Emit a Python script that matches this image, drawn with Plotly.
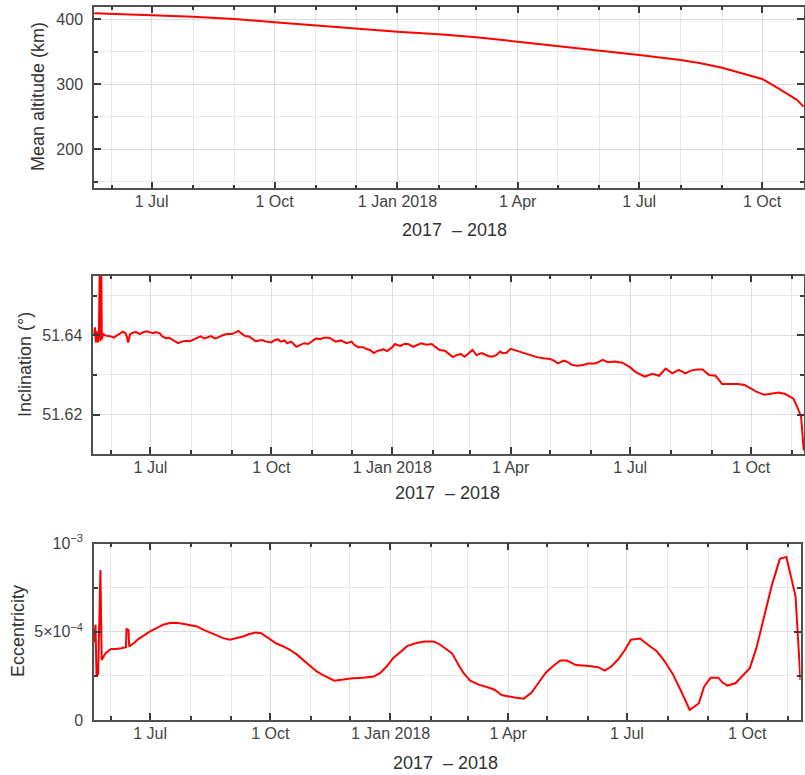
import plotly.graph_objects as go
import pandas as pd

# ---------------- data ----------------
alt_dates = ["2017-05-19", "2017-06-01", "2017-07-01", "2017-08-01", "2017-09-01",
             "2017-10-01", "2017-11-01", "2017-12-01", "2018-01-01", "2018-02-01",
             "2018-03-01", "2018-04-01", "2018-05-01", "2018-06-01", "2018-07-01",
             "2018-08-01", "2018-08-16", "2018-09-01", "2018-09-15", "2018-10-01",
             "2018-10-11", "2018-10-21", "2018-10-27", "2018-11-01"]
alt_km = [409.4, 408.2, 406.1, 404.0, 400.5,
          395.4, 390.2, 385.0, 380.8, 376.9,
          372.3, 365.6, 358.9, 352.8, 345.1,
          337.4, 332.5, 325.6, 317.9, 308.2,
          296.4, 283.5, 276.0, 265.6]

inc_dates = ["2017-05-19 00:00", "2017-05-19 18:00", "2017-05-20 12:00", "2017-05-21 06:00",
             "2017-05-22 00:00", "2017-05-22 18:00", "2017-05-23 12:00", "2017-05-24 00:00",
             "2017-05-24 12:00", "2017-05-25 00:00", "2017-05-26", "2017-05-28",
             "2017-06-01", "2017-06-03", "2017-06-05", "2017-06-08", "2017-06-10",
             "2017-06-12", "2017-06-13", "2017-06-14", "2017-06-15 12:00", "2017-06-18",
             "2017-06-20", "2017-06-23", "2017-06-25", "2017-06-28", "2017-07-01",
             "2017-07-03", "2017-07-05", "2017-07-08", "2017-07-10", "2017-07-13",
             "2017-07-15", "2017-07-17", "2017-07-20", "2017-07-22", "2017-07-25",
             "2017-07-28", "2017-07-31", "2017-08-02", "2017-08-05", "2017-08-08",
             "2017-08-11", "2017-08-14", "2017-08-16", "2017-08-19", "2017-08-21",
             "2017-08-25", "2017-08-28", "2017-09-01", "2017-09-03", "2017-09-06",
             "2017-09-08", "2017-09-11", "2017-09-14", "2017-09-17", "2017-09-19",
             "2017-09-22", "2017-09-24", "2017-09-27", "2017-10-01", "2017-10-03",
             "2017-10-06", "2017-10-08", "2017-10-11", "2017-10-13", "2017-10-16",
             "2017-10-20", "2017-10-23", "2017-10-26", "2017-10-29", "2017-11-01",
             "2017-11-04", "2017-11-07", "2017-11-10", "2017-11-14", "2017-11-17",
             "2017-11-19", "2017-11-23", "2017-11-27", "2017-12-01", "2017-12-03",
             "2017-12-06", "2017-12-10", "2017-12-12", "2017-12-15", "2017-12-18",
             "2017-12-21", "2017-12-24", "2017-12-25", "2017-12-28", "2018-01-01",
             "2018-01-03", "2018-01-07", "2018-01-10", "2018-01-13", "2018-01-17",
             "2018-01-20", "2018-01-23", "2018-01-27", "2018-01-31", "2018-02-03",
             "2018-02-06", "2018-02-10", "2018-02-13", "2018-02-16", "2018-02-19",
             "2018-02-22", "2018-02-25", "2018-03-01", "2018-03-03", "2018-03-06",
             "2018-03-10", "2018-03-15", "2018-03-18", "2018-03-21", "2018-03-24",
             "2018-03-26", "2018-03-29", "2018-04-01", "2018-04-04", "2018-04-08",
             "2018-04-12", "2018-04-16", "2018-04-21", "2018-04-26", "2018-05-01",
             "2018-05-04", "2018-05-07", "2018-05-10", "2018-05-12", "2018-05-15",
             "2018-05-18", "2018-05-22", "2018-05-26", "2018-05-30", "2018-06-04",
             "2018-06-06", "2018-06-10", "2018-06-14", "2018-06-19", "2018-06-25",
             "2018-07-01", "2018-07-05", "2018-07-12", "2018-07-18", "2018-07-23",
             "2018-07-28", "2018-08-02", "2018-08-07", "2018-08-12", "2018-08-16",
             "2018-08-21", "2018-08-25", "2018-08-30", "2018-09-04", "2018-09-09",
             "2018-09-16", "2018-09-21", "2018-09-26", "2018-10-01", "2018-10-05",
             "2018-10-11", "2018-10-17", "2018-10-22", "2018-10-27", "2018-11-02",
             "2018-11-05", "2018-11-08", "2018-11-09", "2018-11-10"]
inc_deg = [51.6400, 51.6420, 51.6382, 51.6410,
           51.6382, 51.6403, 51.6600, 51.6385,
           51.6600, 51.6390, 51.6403, 51.6399,
           51.6397, 51.6394, 51.6398, 51.6405, 51.6409,
           51.6405, 51.6397, 51.6382, 51.6403, 51.6407,
           51.6408, 51.6403, 51.6407, 51.6410, 51.6407,
           51.6405, 51.6408, 51.6405, 51.6397, 51.6392,
           51.6394, 51.6390, 51.6384, 51.6380, 51.6384,
           51.6386, 51.6385, 51.6388, 51.6392, 51.6397,
           51.6392, 51.6395, 51.6398, 51.6392, 51.6394,
           51.6400, 51.6403, 51.6403, 51.6407, 51.6411,
           51.6405, 51.6398, 51.6397, 51.6391, 51.6385,
           51.6387, 51.6388, 51.6384, 51.6382, 51.6387,
           51.6390, 51.6384, 51.6387, 51.6380, 51.6384,
           51.6371, 51.6375, 51.6380, 51.6378, 51.6384,
           51.6392, 51.6390, 51.6394, 51.6394, 51.6388,
           51.6384, 51.6387, 51.6380, 51.6384, 51.6376,
           51.6370, 51.6370, 51.6366, 51.6363, 51.6355,
           51.6361, 51.6363, 51.6365, 51.6360, 51.6370,
           51.6378, 51.6373, 51.6378, 51.6378, 51.6371,
           51.6376, 51.6380, 51.6376, 51.6378, 51.6370,
           51.6363, 51.6361, 51.6353, 51.6345, 51.6350,
           51.6353, 51.6346, 51.6356, 51.6363, 51.6350,
           51.6355, 51.6348, 51.6346, 51.6350, 51.6359,
           51.6355, 51.6356, 51.6366, 51.6363, 51.6359,
           51.6355, 51.6350, 51.6345, 51.6342, 51.6340,
           51.6336, 51.6329, 51.6334, 51.6336, 51.6331,
           51.6325, 51.6323, 51.6325, 51.6329, 51.6329,
           51.6331, 51.6338, 51.6332, 51.6334, 51.6331,
           51.6319, 51.6308, 51.6296, 51.6303, 51.6298,
           51.6316, 51.6304, 51.6313, 51.6304, 51.6311,
           51.6314, 51.6314, 51.6300, 51.6298, 51.6277,
           51.6277, 51.6277, 51.6275, 51.6266, 51.6258,
           51.6250, 51.6254, 51.6256, 51.6252, 51.6241,
           51.6220, 51.6195, 51.6153, 51.6110]

ecc_dates = ["2017-05-19 00:00", "2017-05-20 06:00", "2017-05-21 00:00", "2017-05-22 06:00",
             "2017-05-24 00:00", "2017-05-25 00:00", "2017-05-26 12:00", "2017-05-28",
             "2017-06-01", "2017-06-05", "2017-06-09", "2017-06-12 12:00", "2017-06-13 00:00",
             "2017-06-14 12:00", "2017-06-15 00:00", "2017-06-18", "2017-06-22", "2017-06-27",
             "2017-07-01", "2017-07-06", "2017-07-11", "2017-07-16", "2017-07-21",
             "2017-07-26", "2017-08-01", "2017-08-06", "2017-08-11", "2017-08-16",
             "2017-08-21", "2017-08-26", "2017-08-31", "2017-09-05", "2017-09-10",
             "2017-09-15", "2017-09-20", "2017-09-24", "2017-09-28", "2017-10-02",
             "2017-10-06", "2017-10-11", "2017-10-16", "2017-10-21", "2017-10-26",
             "2017-10-31", "2017-11-05", "2017-11-10", "2017-11-15", "2017-11-19",
             "2017-11-26", "2017-12-03", "2017-12-11", "2017-12-19", "2017-12-24",
             "2017-12-29", "2018-01-03", "2018-01-08", "2018-01-14", "2018-01-21",
             "2018-01-27", "2018-02-03", "2018-02-07", "2018-02-12", "2018-02-17",
             "2018-02-22", "2018-02-26", "2018-03-03", "2018-03-10", "2018-03-17",
             "2018-03-22", "2018-03-27", "2018-04-01", "2018-04-06", "2018-04-13",
             "2018-04-19", "2018-04-25", "2018-04-30", "2018-05-05", "2018-05-11",
             "2018-05-16", "2018-05-23", "2018-05-31", "2018-06-09", "2018-06-14",
             "2018-06-19", "2018-06-24", "2018-06-29", "2018-07-04", "2018-07-11",
             "2018-07-17", "2018-07-24", "2018-07-30", "2018-08-05", "2018-08-11",
             "2018-08-18", "2018-08-25", "2018-08-29", "2018-09-03", "2018-09-09",
             "2018-09-12", "2018-09-16", "2018-09-22", "2018-09-27", "2018-10-03",
             "2018-10-08", "2018-10-14", "2018-10-20", "2018-10-26", "2018-10-31",
             "2018-11-07", "2018-11-10 18:00"]
ecc_e4 = [4.40, 5.40, 2.50, 2.60,
          8.50, 3.40, 3.60, 3.79,
          4.02, 4.02, 4.07, 4.13, 5.15,
          5.10, 4.17, 4.32, 4.58, 4.83,
          5.02, 5.21, 5.40, 5.49, 5.51,
          5.45, 5.38, 5.30, 5.11, 4.96,
          4.77, 4.64, 4.55, 4.64, 4.73,
          4.87, 4.96, 4.92, 4.73, 4.51,
          4.32, 4.17, 3.98, 3.73, 3.41,
          3.07, 2.78, 2.56, 2.35, 2.23,
          2.29, 2.37, 2.39, 2.46, 2.65,
          3.03, 3.50, 3.84, 4.20, 4.36,
          4.45, 4.45, 4.32, 4.05, 3.79,
          3.13, 2.65, 2.23, 1.99, 1.84,
          1.70, 1.42, 1.33, 1.27, 1.21,
          1.55, 2.18, 2.69, 3.03, 3.37,
          3.37, 3.11, 3.07, 2.99, 2.80,
          3.03, 3.41, 3.92, 4.55, 4.62,
          4.26, 3.88, 3.31, 2.61, 1.70,
          0.57, 0.95, 1.89, 2.40, 2.40,
          2.12, 1.95, 2.08, 2.46, 2.94,
          4.07, 5.87, 7.67, 9.13, 9.24,
          7.01, 2.27]
ecc = [v * 1e-4 for v in ecc_e4]

x_tick_vals = ["2017-07-01", "2017-10-01", "2018-01-01", "2018-04-01", "2018-07-01", "2018-10-01"]
x_tick_text = ["1 Jul", "1 Oct", "1 Jan 2018", "1 Apr", "1 Jul", "1 Oct"]
month_starts = [d.strftime("%Y-%m-%d") for d in pd.date_range("2017-05-01", "2018-12-01", freq="MS")]

# ---------------- styling ----------------
FONT = "Liberation Sans, Arial, sans-serif"
RED = "#ff0000"
FRAME = "#505050"
TICKC = "#3a3a3a"
LABC = "#444444"
GRID = "#dcdcdc"
GRID_MINOR = "#e8e8e8"
W, H = 805, 775


def dom_x(a, b):
    return [a / W, b / W]


def dom_y(top, bottom):
    return [1 - bottom / H, 1 - top / H]


def xaxis(domain, anchor, rng):
    return dict(domain=domain, anchor=anchor, type="date", range=rng,
                tickmode="array", tickvals=x_tick_vals, ticktext=x_tick_text,
                ticks="inside", ticklen=7, tickwidth=2, tickcolor=TICKC,
                showline=True, linecolor=FRAME, linewidth=1.5, mirror="ticks",
                showgrid=True, gridcolor=GRID, gridwidth=1, zeroline=False,
                tickfont=dict(size=16, color=LABC, family=FONT),
                ticklabelstandoff=-2, automargin=False,
                minor=dict(tickmode="array", tickvals=month_starts, ticks="inside",
                           ticklen=4, tickwidth=1.5, tickcolor=TICKC,
                           showgrid=True, gridcolor=GRID_MINOR, gridwidth=1))


def yaxis(domain, anchor, rng, vals, text, minor_vals):
    return dict(domain=domain, anchor=anchor, range=rng,
                tickmode="array", tickvals=vals, ticktext=text,
                ticks="inside", ticklen=7, tickwidth=2, tickcolor=TICKC,
                showline=True, linecolor=FRAME, linewidth=1.5, mirror="ticks",
                showgrid=True, gridcolor=GRID, gridwidth=1, zeroline=False,
                tickfont=dict(size=16, color=LABC, family=FONT),
                ticklabelstandoff=6, automargin=False,
                minor=dict(tickmode="array", tickvals=minor_vals, ticks="inside",
                           ticklen=4, tickwidth=1.5, tickcolor=TICKC,
                           showgrid=True, gridcolor=GRID_MINOR, gridwidth=1))


fig = go.Figure()
line = dict(color=RED, width=2)
fig.add_trace(go.Scatter(x=alt_dates, y=alt_km, mode="lines", line=line,
                         xaxis="x", yaxis="y", showlegend=False, hoverinfo="skip"))
fig.add_trace(go.Scatter(x=inc_dates, y=inc_deg, mode="lines", line=line,
                         xaxis="x2", yaxis="y2", showlegend=False, hoverinfo="skip"))
fig.add_trace(go.Scatter(x=ecc_dates, y=ecc, mode="lines", line=line,
                         xaxis="x3", yaxis="y3", showlegend=False, hoverinfo="skip"))

fig.update_layout(
    width=W, height=H,
    margin=dict(l=0, r=0, t=0, b=0),
    paper_bgcolor="white", plot_bgcolor="white",
    font=dict(family=FONT, color="#333333"),
    template="none",
    xaxis=xaxis(dom_x(94, 804), "y", ["2017-05-18 20:00", "2018-11-01 08:00"]),
    yaxis=yaxis(dom_y(6.7, 188.3), "x", [140, 419.4], [200, 300, 400],
                ["200", "300", "400"], [150, 250, 350]),
    xaxis2=xaxis(dom_x(93.3, 804), "y2", ["2017-05-18 12:00", "2018-11-10 05:00"]),
    yaxis2=yaxis(dom_y(275.7, 454), "x2", [51.6101, 51.655], [51.62, 51.64],
                 ["51.62", "51.64"], [51.63, 51.65]),
    xaxis3=xaxis(dom_x(94, 800.5), "y3", ["2017-05-19 02:00", "2018-11-10 19:00"]),
    yaxis3=yaxis(dom_y(543.5, 720), "x3", [0, 1e-3], [0, 5e-4, 1e-3],
                 ["0", "5×10<sup>−4</sup>", "10<sup>−3</sup>"], [2.5e-4, 7.5e-4]),
)

ann = []
for text, px, py in [("Mean altitude (km)", 38, 97), ("Inclination (°)", 25, 365),
                     ("Eccentricity", 18, 631)]:
    ann.append(dict(text=text, x=px / W, y=1 - py / H, xref="paper", yref="paper",
                    showarrow=False, textangle=-90, xanchor="center", yanchor="middle",
                    font=dict(size=18, color="#333333", family=FONT)))
for px, py in [(454.5, 230.5), (447.2, 493.5), (445.5, 763)]:
    ann.append(dict(text="2017\u00a0\u00a0– 2018", x=px / W, y=1 - py / H,
                    xref="paper", yref="paper", showarrow=False,
                    xanchor="center", yanchor="middle",
                    font=dict(size=18, color="#333333", family=FONT)))
fig.update_layout(annotations=ann)

fig.write_html("out.html")
